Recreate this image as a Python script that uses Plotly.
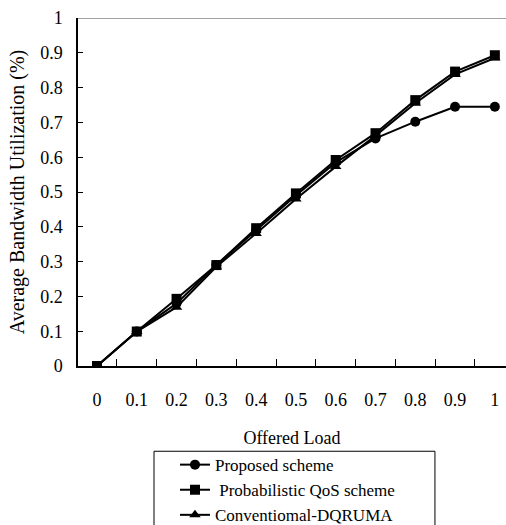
import plotly.graph_objects as go

offered_load = [0, 0.1, 0.2, 0.3, 0.4, 0.5, 0.6, 0.7, 0.8, 0.9, 1.0]
load_labels = ["0", "0.1", "0.2", "0.3", "0.4", "0.5", "0.6", "0.7", "0.8", "0.9", "1"]
proposed = [0, 0.099, 0.18, 0.29, 0.39, 0.49, 0.585, 0.654, 0.702, 0.745, 0.745]
probabilistic = [0, 0.099, 0.193, 0.29, 0.396, 0.496, 0.592, 0.669, 0.764, 0.846, 0.893]
conventional = [0, 0.099, 0.169, 0.285, 0.381, 0.48, 0.573, 0.662, 0.755, 0.838, 0.885]
y_ticks = [0, 0.1, 0.2, 0.3, 0.4, 0.5, 0.6, 0.7, 0.8, 0.9, 1]
y_tick_text = ["0", "0.1", "0.2", "0.3", "0.4", "0.5", "0.6", "0.7", "0.8", "0.9", "1"]
x_boundaries = [0.05, 0.15, 0.25, 0.35, 0.45, 0.55, 0.65, 0.75, 0.85, 0.95]

serif = "Liberation Serif"

fig = go.Figure()
fig.add_trace(go.Scatter(x=offered_load, y=proposed, name="Proposed scheme", mode="lines+markers",
                         line=dict(color="black", width=2), marker=dict(symbol="circle", size=10, color="black"),
                         legendrank=1))
fig.add_trace(go.Scatter(x=offered_load, y=conventional, name="Conventiomal-DQRUMA", mode="lines+markers",
                         line=dict(color="black", width=2), marker=dict(symbol="triangle-up", size=10, color="black"),
                         legendrank=3))
fig.add_trace(go.Scatter(x=offered_load, y=probabilistic, name=" Probabilistic QoS scheme", mode="lines+markers",
                         line=dict(color="black", width=2), marker=dict(symbol="square", size=10, color="black"),
                         legendrank=2))

fig.update_layout(
    width=506, height=525,
    margin=dict(l=78, r=0, t=18, b=159, autoexpand=False),
    paper_bgcolor="white", plot_bgcolor="white",
    font=dict(family=serif, color="black", size=17),
    showlegend=True,
    legend=dict(x=0.2266, y=-0.233, xanchor="left", yanchor="top",
                borderwidth=0, bgcolor="rgba(0,0,0,0)",
                font=dict(family=serif, size=17), itemwidth=30,
                tracegroupgap=0, traceorder="normal"),
    xaxis=dict(range=[-0.0477, 1.028], tickvals=offered_load, ticktext=load_labels, ticks="",
               minor=dict(tickvals=x_boundaries, ticks="inside", ticklen=7, tickcolor="black", showgrid=False),
               showline=True, linecolor="black", linewidth=1.5, automargin=False,
               showgrid=False, zeroline=False, tickfont=dict(family=serif, size=18),
               ticklabelstandoff=17,
               title=dict(text="Offered Load", font=dict(family=serif, size=18), standoff=22)),
    yaxis=dict(range=[0, 1], tickvals=y_ticks, ticktext=y_tick_text, ticks="inside", ticklen=5,
               tickcolor="black", showline=True, linecolor="black", linewidth=1.5, automargin=False,
               showgrid=False, zeroline=False, tickfont=dict(family=serif, size=18),
               ticklabelstandoff=10,
               title=dict(text="Average Bandwidth Utilization (%)", font=dict(family=serif, size=20), standoff=10)),
)
fig.add_shape(type="line", xref="paper", yref="y", x0=0, x1=1, y0=1, y1=1,
              line=dict(color="#444", width=1))
fig.add_shape(type="rect", xref="paper", yref="paper", x0=0.1776, x1=0.834, y0=-0.245, y1=-0.6,
              line=dict(color="black", width=1), fillcolor="rgba(0,0,0,0)", layer="below")
fig.write_html("out.html", post_script="document.body.style.margin='0';", config={"displayModeBar": False})
